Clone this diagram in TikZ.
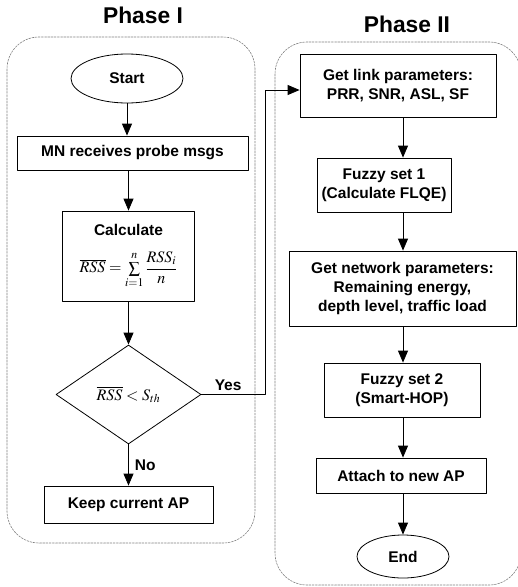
\documentclass[tikz,border=0pt]{standalone}
\usepackage{mathptmx}
\usepackage[no-math]{fontspec}
\setmainfont{Liberation Sans}
\usetikzlibrary{arrows.meta,shapes.geometric}

\tikzset{
  box/.style={draw,line width=0.8pt,inner sep=0pt,align=center,font=\fontsize{15.5}{19}\selectfont\bfseries},
  term/.style={box,ellipse},
  decision/.style={box,diamond},
  frame/.style={draw=gray,line width=0.6pt,dash pattern=on 2pt off 1.2pt,rounded corners=32pt},
  title/.style={font=\fontsize{22.8}{26}\selectfont\bfseries},
  lbl/.style={font=\fontsize{15.5}{19}\selectfont\bfseries,inner sep=0pt},
}

\begin{document}
\begin{tikzpicture}[line cap=round,line join=round,>={Triangle[length=12pt,width=10pt]},x=1pt,y=-1pt,line width=0.8pt]
\useasboundingbox (0,0) rectangle (518,587);
%frames
\draw[frame] (7,37) rectangle (255,543);%phase I
\draw[frame] (275,42) rectangle (521,585);%phase II
\node[title] (ph1) at (143,15) {Phase I};
\node[title] (ph2) at (407,24) {Phase II};
%%%%col1
\node[term,minimum width=112pt,minimum height=49pt] (start) at (127,78.5) {Start};
\node[box,minimum width=231pt,minimum height=34pt] (mn) at (132.5,153) {MN receives probe msgs};
\node[box,minimum width=132pt,minimum height=90pt] (calc) at (128.5,256) {Calculate\\[15pt]
  \fontsize{16}{19}\selectfont$\overline{RSS}=\sum\limits_{i=1}^{n}{\displaystyle\frac{RSS_i}{n}}$};
\node[decision,minimum width=145pt,minimum height=99pt] (dec) at (128.5,394.5) {\fontsize{16}{19}\selectfont$\overline{RSS}<S_{th}$};
\node[box,minimum width=169pt,minimum height=37pt] (keep) at (128.5,504.5) {Keep current AP};
%%%%col2
\node[box,minimum width=196pt,minimum height=63pt] (link) at (398,85.5) {Get link parameters:\\PRR, SNR, ASL, SF};
\node[box,minimum width=134pt,minimum height=54pt] (fz1) at (384,185) {Fuzzy set 1\\(Calculate FLQE)};
\node[box,minimum width=227pt,minimum height=75pt] (net) at (402.5,288.5) {Get network parameters:\\Remaining energy,\\depth level, traffic load};
\node[box,minimum width=156pt,minimum height=54pt] (fz2) at (402,390) {Fuzzy set 2\\(Smart-HOP)};
\node[box,minimum width=170pt,minimum height=35pt] (att) at (401,475.5) {Attach to new AP};
\node[term,minimum width=92pt,minimum height=43pt] (end) at (403,556.5) {End};
%%%lines1
\draw[->] (start.south) -- (start.south |- mn.north);
\draw[->] (calc.north |- mn.south) -- (calc.north);
\draw[->] (calc) -- (dec);
\draw[->] (dec) -- node[lbl,right=6pt] (no) {No} (keep);
%% yes to phase II
\coordinate (bend) at (265,90);
\draw[->] (dec.east) -- node[lbl,above=3pt,pos=0.42] (yes) {Yes} (dec.east -| bend) -- (bend) -- (bend -| link.west);
%%%lines2
\draw[->] (link.south -| end.north) -- (fz1.north -| end.north);
\draw[->] (fz1.south -| end.north) -- (net.north -| end.north);
\draw[->] (net.south -| end.north) -- (fz2.north -| end.north);
\draw[->] (fz2.south -| end.north) -- (att.north -| end.north);
\draw[->] (att.south -| end.north) -- (end.north);
\end{tikzpicture}
\end{document}
